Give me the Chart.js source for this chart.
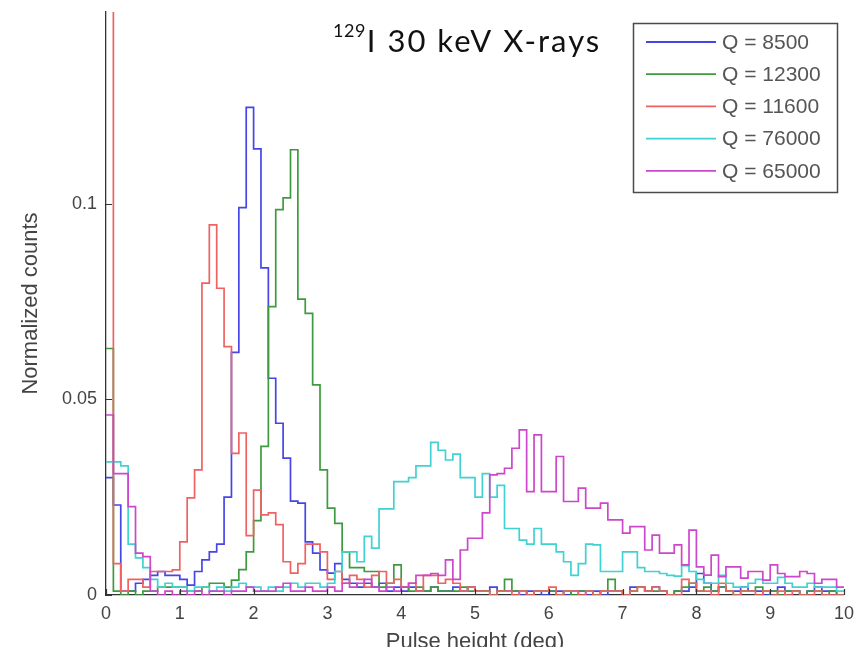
<!DOCTYPE html>
<html>
<head>
<meta charset="utf-8">
<script src="https://cdn.jsdelivr.net/npm/chart.js@4.4.1/dist/chart.umd.min.js"></script>
<style>
  html, body { margin: 0; padding: 0; background: #fff; }
  canvas { display: block; }
</style>
</head>
<body>
<canvas id="chart" width="862" height="647"></canvas>
<script>
// Pulse-height histograms, bin width 0.1 deg, bins start at 0
const binWidth = 0.1;

const seriesLabels = ['Q = 8500', 'Q = 12300', 'Q = 11600', 'Q = 76000', 'Q = 65000'];
const seriesColors = ['#4646e6', '#3f9a3f', '#ee6262', '#40d2d2', '#cc47cc'];

const q8500 = [
  0.030, 0.023, 0.001, 0.001, 0.003, 0.004, 0.005, 0.006, 0.005, 0.005,
  0.004, 0.0025, 0.006, 0.009, 0.011, 0.013, 0.025, 0.062, 0.099, 0.1246,
  0.114, 0.0836, 0.0554, 0.0439, 0.035, 0.024, 0.0235, 0.0136, 0.0107, 0.0064,
  0.0056, 0.008, 0.004, 0.003, 0.002, 0.003, 0.002, 0.003, 0.001, 0.002,
  0.001, 0.002, 0.001, 0.001, 0.002, 0.001, 0.001, 0.002, 0.001, 0.002,
  0.001, 0.001, 0.002, 0.001, 0.001, 0.001, 0.0, 0.001, 0.001, 0.0,
  0.001, 0.001, 0.0, 0.001, 0.001, 0.0, 0.001, 0.0, 0.001, 0.001,
  0.0, 0.002, 0.002, 0.001, 0.002, 0.001, 0.0, 0.001, 0.001, 0.002,
  0.0055, 0.003, 0.001, 0.002, 0.001, 0.001, 0.002, 0.001, 0.001, 0.0,
  0.001, 0.002, 0.001, 0.001, 0.0, 0.001, 0.002, 0.001, 0.001, 0.0
];

const q12300 = [
  0.063, 0.001, 0.0, 0.001, 0.0, 0.001, 0.001, 0.002, 0.002, 0.002,
  0.002, 0.001, 0.001, 0.002, 0.003, 0.003, 0.002, 0.0038, 0.0065, 0.011,
  0.019, 0.038, 0.0737, 0.0985, 0.1015, 0.1138, 0.0756, 0.072, 0.0537, 0.032,
  0.0222, 0.0183, 0.011, 0.007, 0.007, 0.006, 0.006, 0.002, 0.003, 0.0077,
  0.002, 0.001, 0.002, 0.001, 0.002, 0.001, 0.001, 0.001, 0.002, 0.001,
  0.001, 0.001, 0.0, 0.001, 0.004, 0.001, 0.001, 0.0, 0.001, 0.001,
  0.001, 0.0, 0.001, 0.0, 0.001, 0.001, 0.0, 0.001, 0.004, 0.001,
  0.0, 0.001, 0.002, 0.001, 0.001, 0.001, 0.0, 0.001, 0.002, 0.003,
  0.001, 0.002, 0.001, 0.002, 0.001, 0.0, 0.001, 0.001, 0.002, 0.001,
  0.001, 0.0, 0.001, 0.001, 0.0, 0.001, 0.001, 0.0, 0.001, 0.0
];

const q11600 = [
  0.30, 0.008, 0.001, 0.004, 0.004, 0.002, 0.006, 0.006, 0.006, 0.0064,
  0.0136, 0.0248, 0.032, 0.0797, 0.0946, 0.0784, 0.0635, 0.0362, 0.0414, 0.0152,
  0.0268, 0.0205, 0.021, 0.018, 0.0085, 0.0056, 0.008, 0.013, 0.013, 0.011,
  0.004, 0.006, 0.003, 0.005, 0.004, 0.002, 0.005, 0.006, 0.003, 0.004,
  0.002, 0.003, 0.001, 0.005, 0.005, 0.003, 0.004, 0.003, 0.001, 0.002,
  0.001, 0.001, 0.0, 0.001, 0.001, 0.0, 0.001, 0.0, 0.001, 0.001,
  0.002, 0.0, 0.001, 0.001, 0.0, 0.001, 0.0, 0.001, 0.001, 0.001,
  0.0, 0.001, 0.002, 0.001, 0.002, 0.001, 0.0, 0.0, 0.004, 0.003,
  0.001, 0.001, 0.0, 0.003, 0.001, 0.0, 0.001, 0.001, 0.0, 0.001,
  0.0, 0.001, 0.0, 0.001, 0.0, 0.0, 0.001, 0.0, 0.0, 0.0
];

const q76000 = [
  0.034, 0.034, 0.033, 0.013, 0.0095, 0.007, 0.004, 0.002, 0.003, 0.002,
  0.002, 0.001, 0.002, 0.002, 0.001, 0.002, 0.001, 0.002, 0.003, 0.002,
  0.002, 0.001, 0.002, 0.001, 0.002, 0.003, 0.002, 0.003, 0.003, 0.002,
  0.003, 0.006, 0.011, 0.011, 0.0085, 0.015, 0.012, 0.022, 0.022, 0.029,
  0.029, 0.030, 0.033, 0.033, 0.039, 0.037, 0.0345, 0.036, 0.030, 0.030,
  0.025, 0.031, 0.025, 0.028, 0.017, 0.017, 0.014, 0.013, 0.017, 0.013,
  0.013, 0.011, 0.0085, 0.005, 0.008, 0.013, 0.0128, 0.006, 0.006, 0.006,
  0.011, 0.011, 0.007, 0.006, 0.006, 0.0055, 0.005, 0.0048, 0.0075, 0.006,
  0.004, 0.003, 0.003, 0.005, 0.003, 0.002, 0.002, 0.003, 0.004, 0.003,
  0.003, 0.0045, 0.003, 0.002, 0.002, 0.003, 0.002, 0.002, 0.002, 0.001
];

const q65000 = [
  0.046, 0.031, 0.031, 0.0226, 0.0107, 0.0098, 0.001, 0.0, 0.001, 0.0,
  0.001, 0.0, 0.001, 0.0, 0.001, 0.001, 0.0, 0.001, 0.001, 0.002,
  0.001, 0.001, 0.001, 0.002, 0.003, 0.001, 0.001, 0.002, 0.001, 0.001,
  0.002, 0.001, 0.003, 0.002, 0.003, 0.004, 0.002, 0.001, 0.002, 0.001,
  0.002, 0.003, 0.005, 0.005, 0.0055, 0.005, 0.009, 0.004, 0.0115, 0.0145,
  0.0145, 0.021, 0.0307, 0.031, 0.0324, 0.0375, 0.0422, 0.0264, 0.0409, 0.0264,
  0.0264, 0.0354, 0.0239, 0.0239, 0.0273, 0.0222, 0.0222, 0.0235, 0.0192, 0.0192,
  0.0158, 0.0175, 0.0175, 0.0115, 0.0153, 0.0107, 0.0107, 0.0128, 0.0077, 0.0166,
  0.0072, 0.0051, 0.0102, 0.0047, 0.0072, 0.0072, 0.0043, 0.006, 0.006, 0.0038,
  0.0077, 0.0055, 0.0047, 0.0047, 0.006, 0.0055, 0.003, 0.004, 0.004, 0.002
];

const seriesValues = [q8500, q12300, q11600, q76000, q65000];

const xTickValues = [0, 1, 2, 3, 4, 5, 6, 7, 8, 9, 10];
const yTickValues = [0, 0.05, 0.1];
const yTickLabels = ['0', '0.05', '0.1'];

const titleIsotope = '129';
const titleText = 'I 30 keV X-rays';
const xTitle = 'Pulse height (deg)';
const yTitle = 'Normalized counts';

// Turn bin counts into stair points at bin left edges, closed at the last right edge
function stairs(counts) {
  const pts = counts.map((v, i) => ({ x: +(i * binWidth).toFixed(2), y: v }));
  pts.push({ x: +(counts.length * binWidth).toFixed(2), y: counts[counts.length - 1] });
  return pts;
}

const datasets = seriesValues.map((vals, i) => ({
  label: seriesLabels[i],
  data: stairs(vals),
  borderColor: seriesColors[i],
  backgroundColor: seriesColors[i],
  borderWidth: 1.7,
  pointRadius: 0,
  stepped: 'before',
  fill: false,
  order: seriesValues.length - i
}));

// Inward tick marks, boxed legend and superscripted title
const decorations = {
  id: 'decorations',
  afterDraw(chart) {
    const { ctx, chartArea: a, scales: { x, y } } = chart;
    ctx.save();

    ctx.strokeStyle = '#333';
    ctx.lineWidth = 1.2;
    ctx.beginPath();
    xTickValues.forEach(v => {
      const px = Math.round(x.getPixelForValue(v)) + 0.5;
      ctx.moveTo(px, a.bottom);
      ctx.lineTo(px, a.bottom - 6);
    });
    yTickValues.forEach(v => {
      const py = Math.round(y.getPixelForValue(v)) + 0.5;
      ctx.moveTo(a.left, py);
      ctx.lineTo(a.left + 6, py);
    });
    ctx.stroke();

    // legend
    const bx = 633.5, by = 23.5, bw = 204, bh = 169;
    ctx.fillStyle = '#fff';
    ctx.fillRect(bx, by, bw, bh);
    ctx.strokeStyle = '#4a4a4a';
    ctx.lineWidth = 1.5;
    ctx.strokeRect(bx, by, bw, bh);
    ctx.font = '21px "Liberation Sans", Arial, sans-serif';
    ctx.textBaseline = 'middle';
    ctx.textAlign = 'left';
    seriesLabels.forEach((lab, i) => {
      const ly = 42 + i * 32.2;
      ctx.strokeStyle = seriesColors[i];
      ctx.lineWidth = 1.8;
      ctx.beginPath();
      ctx.moveTo(646, ly);
      ctx.lineTo(716, ly);
      ctx.stroke();
      ctx.fillStyle = '#555';
      ctx.fillText(lab, 722, ly + 1);
    });

    // title with mass-number superscript
    ctx.fillStyle = '#111';
    ctx.textBaseline = 'alphabetic';
    ctx.font = '18px Lato, "Open Sans", sans-serif';
    ctx.letterSpacing = '0.5px';
    ctx.fillText(titleIsotope, 333, 37);
    const w = ctx.measureText(titleIsotope).width;
    ctx.font = '31px Lato, "Open Sans", sans-serif';
    ctx.letterSpacing = '2px';
    ctx.fillText(titleText, 333 + w + 1, 52);

    ctx.restore();
  }
};

Chart.defaults.font.family = '"Liberation Sans", Arial, sans-serif';

new Chart(document.getElementById('chart'), {
  type: 'line',
  data: { datasets },
  options: {
    responsive: false,
    animation: false,
    devicePixelRatio: 1,
    layout: { padding: { top: 12, right: 14, left: 0, bottom: 0 } },
    plugins: {
      legend: { display: false },
      tooltip: { enabled: false },
      title: { display: false }
    },
    scales: {
      x: {
        type: 'linear',
        min: 0,
        max: 10,
        grid: { display: false, drawTicks: false },
        border: { display: true, color: '#333', width: 1.3 },
        ticks: {
          font: { size: 18 },
          color: '#444',
          padding: 8,
          callback: v => String(v)
        },
        afterBuildTicks: s => { s.ticks = xTickValues.map(v => ({ value: v })); },
        afterFit: s => { s.height = 52; },
        title: {
          display: true,
          text: xTitle,
          font: { size: 22 },
          color: '#444',
          padding: { top: 0, bottom: -8 }
        }
      },
      y: {
        type: 'linear',
        min: 0,
        max: 0.149,
        grid: { display: false, drawTicks: false },
        border: { display: true, color: '#333', width: 1.3 },
        ticks: {
          font: { size: 18 },
          color: '#444',
          padding: 9,
          callback: v => {
            const k = yTickValues.findIndex(t => Math.abs(t - v) < 1e-9);
            return k >= 0 ? yTickLabels[k] : '';
          }
        },
        afterBuildTicks: s => { s.ticks = yTickValues.map(v => ({ value: v })); },
        afterFit: s => { s.width = 106; s.paddingTop = 0; s.paddingBottom = 0; },
        title: {
          display: true,
          text: yTitle,
          font: { size: 22 },
          color: '#444',
          padding: { top: 18, bottom: 0 }
        }
      }
    }
  },
  plugins: [decorations]
});
</script>
</body>
</html>
